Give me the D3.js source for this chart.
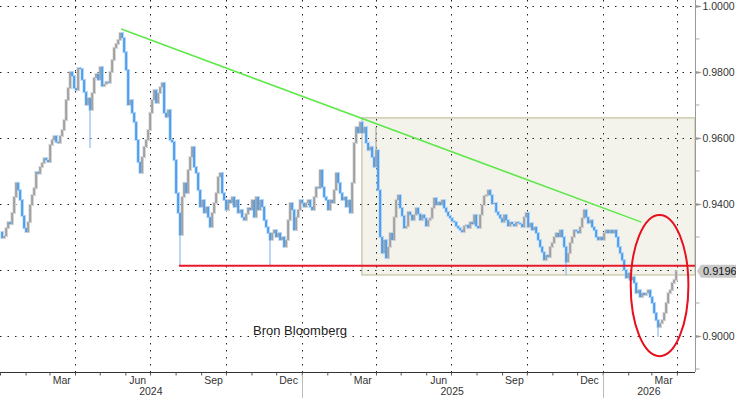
<!DOCTYPE html>
<html>
<head>
<meta charset="utf-8">
<script src="https://cdn.jsdelivr.net/npm/d3@7"></script>
<style>
  body { margin: 0; background: #fff; }
  svg { display: block; font-family: 'Liberation Sans', Arial, sans-serif; }
</style>
</head>
<body>
<div id="chart"></div>
<script>
// series: closes sampled every stepDays from startDate
var startDate = '2024-01-01';
var endDate = '2026-04-23';
var stepDays = 2.426;
var closes = [
  0.9315, 0.9297, 0.9303, 0.9327, 0.9345, 0.9339, 0.9373, 0.9421, 0.9464, 0.9442,
  0.9412, 0.9364, 0.9327, 0.9315, 0.9345, 0.9397, 0.9427, 0.9448, 0.9497, 0.9492,
  0.9512, 0.9524, 0.9539, 0.9533, 0.9527, 0.9579, 0.9594, 0.9606, 0.9588, 0.9585,
  0.9606, 0.9624, 0.9654, 0.9715, 0.9751, 0.9800, 0.9788, 0.9751, 0.9745, 0.9812,
  0.9809, 0.9776, 0.9739, 0.9700, 0.9721, 0.9685, 0.9736, 0.9782, 0.9794, 0.9776,
  0.9815, 0.9757, 0.9763, 0.9770, 0.9767, 0.9800, 0.9836, 0.9873, 0.9885, 0.9897,
  0.9918, 0.9903, 0.9860, 0.9806, 0.9700, 0.9715, 0.9676, 0.9648, 0.9594, 0.9527,
  0.9494, 0.9542, 0.9573, 0.9594, 0.9624, 0.9676, 0.9715, 0.9745, 0.9706, 0.9736,
  0.9754, 0.9767, 0.9676, 0.9663, 0.9685, 0.9594, 0.9588, 0.9533, 0.9433, 0.9373,
  0.9306, 0.9421, 0.9464, 0.9433, 0.9503, 0.9542, 0.9573, 0.9512, 0.9494, 0.9442,
  0.9391, 0.9412, 0.9373, 0.9391, 0.9360, 0.9330, 0.9373, 0.9403, 0.9433, 0.9482,
  0.9494, 0.9433, 0.9412, 0.9382, 0.9412, 0.9403, 0.9421, 0.9391, 0.9412, 0.9373,
  0.9382, 0.9360, 0.9351, 0.9370, 0.9388, 0.9382, 0.9412, 0.9360, 0.9421, 0.9382,
  0.9412, 0.9391, 0.9351, 0.9330, 0.9312, 0.9291, 0.9312, 0.9321, 0.9300, 0.9312,
  0.9291, 0.9300, 0.9270, 0.9291, 0.9351, 0.9403, 0.9382, 0.9321, 0.9360, 0.9382,
  0.9412, 0.9403, 0.9391, 0.9403, 0.9412, 0.9391, 0.9382, 0.9421, 0.9451, 0.9448,
  0.9503, 0.9451, 0.9421, 0.9412, 0.9382, 0.9412, 0.9403, 0.9442, 0.9494, 0.9464,
  0.9433, 0.9412, 0.9421, 0.9391, 0.9412, 0.9373, 0.9464, 0.9585, 0.9633, 0.9615,
  0.9648, 0.9615, 0.9633, 0.9585, 0.9563, 0.9573, 0.9542, 0.9512, 0.9563, 0.9442,
  0.9300, 0.9251, 0.9291, 0.9236, 0.9270, 0.9312, 0.9291, 0.9360, 0.9412, 0.9427,
  0.9388, 0.9364, 0.9327, 0.9333, 0.9376, 0.9367, 0.9351, 0.9367, 0.9388, 0.9370,
  0.9351, 0.9367, 0.9357, 0.9333, 0.9351, 0.9357, 0.9388, 0.9418, 0.9397, 0.9406,
  0.9397, 0.9412, 0.9388, 0.9376, 0.9364, 0.9357, 0.9348, 0.9345, 0.9333, 0.9327,
  0.9321, 0.9315, 0.9333, 0.9336, 0.9327, 0.9345, 0.9339, 0.9367, 0.9333, 0.9327,
  0.9367, 0.9397, 0.9424, 0.9427, 0.9442, 0.9427, 0.9400, 0.9403, 0.9376, 0.9367,
  0.9357, 0.9345, 0.9367, 0.9351, 0.9333, 0.9345, 0.9339, 0.9333, 0.9345, 0.9342,
  0.9339, 0.9330, 0.9360, 0.9373, 0.9330, 0.9342, 0.9321, 0.9330, 0.9312, 0.9291,
  0.9270, 0.9254, 0.9230, 0.9245, 0.9239, 0.9270, 0.9282, 0.9300, 0.9312, 0.9300,
  0.9321, 0.9300, 0.9270, 0.9224, 0.9251, 0.9282, 0.9300, 0.9321, 0.9318, 0.9312,
  0.9330, 0.9357, 0.9382, 0.9360, 0.9342, 0.9351, 0.9330, 0.9321, 0.9300, 0.9291,
  0.9300, 0.9291, 0.9312, 0.9321, 0.9312, 0.9321, 0.9312, 0.9321, 0.9300, 0.9270,
  0.9251, 0.9230, 0.9200, 0.9176, 0.9191, 0.9170, 0.9179, 0.9161, 0.9130, 0.9139,
  0.9118, 0.9130, 0.9124, 0.9130, 0.9139, 0.9118, 0.9100, 0.9070, 0.9048, 0.9027,
  0.9039, 0.9048, 0.9070, 0.9100, 0.9130, 0.9139, 0.9161, 0.9170, 0.9196
];
// intraday extremes worth showing (index into closes, value)
var wicks = [[45, 0.9570], [90, 0.9215], [135, 0.9215], [188, 0.9633], [283, 0.9185], [329, 0.8997]];

var lastValue = 0.9196;
var gridValues = [0.90, 0.92, 0.94, 0.96, 0.98, 1.00];
var labelValues = [0.90, 0.94, 0.96, 0.98, 1.00];
var minorValues = [0.89, 0.91, 0.93, 0.95, 0.97, 0.99];
var labelMonths = [2, 5, 8, 11]; // Mar Jun Sep Dec

// annotations
var box = { start: '2025-03-15', top: 0.9661, bottom: 0.9185 };
var support = { start: '2024-08-05', value: 0.9213 };
var trend = { start: '2024-05-27', v0: 0.9930, end: '2026-02-17', v1: 0.9345 };
var circle = { center: '2026-03-11', value: 0.9153, days: 35, span: 0.0214 };
var source = 'Bron Bloomberg';

var width = 736, height = 398;
var plotW = 695, plotH = 372;
var parse = d3.timeParse('%Y-%m-%d');

var svg = d3.select('#chart').append('svg')
    .attr('width', width)
    .attr('height', height);

var x = d3.scaleTime()
    .domain([parse(startDate), parse(endDate)])
    .range([0, plotW]);

var y = d3.scaleLinear()
    .domain([0.8891, 1.0018])
    .range([plotH, 0]);

var t0 = parse(startDate).getTime();
var data = closes.map(function(v, i) {
    return { date: new Date(t0 + i * stepDays * 864e5), value: v };
});

// shaded box
svg.append('rect')
    .attr('x', x(parse(box.start)))
    .attr('y', y(box.top))
    .attr('width', plotW - x(parse(box.start)))
    .attr('height', y(box.bottom) - y(box.top))
    .attr('fill', '#f3f3ec')
    .attr('stroke', '#cdcdb0')
    .attr('stroke-width', 1.5);

// grid
svg.append('g').selectAll('line')
    .data(gridValues)
    .enter().append('line')
    .attr('x1', 0).attr('x2', plotW)
    .attr('y1', function(d) { return Math.round(y(d)) + 0.5; })
    .attr('y2', function(d) { return Math.round(y(d)) + 0.5; })
    .attr('stroke', '#222')
    .attr('stroke-dasharray', '1.5,6');

var quarters = d3.timeMonth.range(parse(startDate), parse(endDate))
    .filter(function(d) { return d.getMonth() % 3 === 0 && d > parse(startDate); });

svg.append('g').selectAll('line')
    .data(quarters)
    .enter().append('line')
    .attr('x1', function(d) { return Math.round(x(d)) + 0.5; })
    .attr('x2', function(d) { return Math.round(x(d)) + 0.5; })
    .attr('y1', 0).attr('y2', plotH)
    .attr('stroke', '#222')
    .attr('stroke-dasharray', '1.5,5.5');

// price bars: each bar runs from the previous close to this close,
// blue on down moves, grey on up moves
var blue = '#3d96ec', grey = '#9a9a9a';
var lightBlue = '#b3d5f7', lightGrey = '#d4d4d4';
var bars = data.slice(1).map(function(d, i) {
    return { date: d.date, open: data[i].value, close: d.value, down: d.value < data[i].value };
});

var series = svg.append('g');

function barTop(d) { return y(Math.max(d.open, d.close)); }
function barH(d) { return Math.max(1, Math.abs(y(d.open) - y(d.close))); }

series.selectAll('.halo')
    .data(bars)
    .enter().append('rect')
    .attr('x', function(d) { return x(d.date) - 1.5; })
    .attr('y', function(d) { return barTop(d) - 1; })
    .attr('width', 3.5)
    .attr('height', function(d) { return barH(d) + 2; })
    .attr('fill', function(d) { return d.down ? lightBlue : lightGrey; });

series.selectAll('.wick')
    .data(wicks)
    .enter().append('line')
    .attr('x1', function(d) { return x(data[d[0]].date); })
    .attr('x2', function(d) { return x(data[d[0]].date); })
    .attr('y1', function(d) { return y(data[d[0]].value); })
    .attr('y2', function(d) { return y(d[1]); })
    .attr('stroke', function(d) { return d[1] < data[d[0]].value ? '#8cbcf0' : '#aaa'; })
    .attr('stroke-width', 1.2);

series.selectAll('.bar')
    .data(bars)
    .enter().append('rect')
    .attr('x', function(d) { return x(d.date) - 0.75; })
    .attr('y', barTop)
    .attr('width', 1.6)
    .attr('height', barH)
    .attr('fill', function(d) { return d.down ? blue : grey; });

// support line
svg.append('line')
    .attr('x1', x(parse(support.start))).attr('x2', plotW)
    .attr('y1', y(support.value)).attr('y2', y(support.value))
    .attr('stroke', '#e8182c')
    .attr('stroke-width', 2);

// trend line
svg.append('line')
    .attr('x1', x(parse(trend.start))).attr('y1', y(trend.v0))
    .attr('x2', x(parse(trend.end))).attr('y2', y(trend.v1))
    .attr('stroke', '#5ee84a')
    .attr('stroke-width', 1.5);

// circled area
var cx = x(parse(circle.center));
svg.append('ellipse')
    .attr('cx', cx)
    .attr('cy', y(circle.value))
    .attr('rx', cx - x(d3.timeDay.offset(parse(circle.center), -circle.days)))
    .attr('ry', y(circle.value - circle.span) - y(circle.value))
    .attr('fill', 'none')
    .attr('stroke', '#e8101c')
    .attr('stroke-width', 2);

// right axis
var yAxis = d3.axisRight(y)
    .tickValues(labelValues)
    .tickSize(0)
    .tickPadding(7)
    .tickFormat(d3.format('.4f'));

var ya = svg.append('g')
    .attr('transform', 'translate(' + (plotW + 0.5) + ',0)')
    .call(yAxis);
ya.select('.domain').attr('stroke', '#999').attr('d', 'M0,0V' + plotH);
ya.selectAll('text')
    .attr('fill', '#333')
    .style('font-size', '10.5px')
    .style('font-family', "'Liberation Sans', Arial, sans-serif");
ya.selectAll('.tick').append('path')
    .attr('d', 'M0,-1.5L5,-0.5L6,0L5,0.5L0,1.5Z')
    .attr('fill', '#999');

ya.selectAll('.minor')
    .data(minorValues)
    .enter().append('line')
    .attr('x1', 0).attr('x2', 4)
    .attr('y1', function(d) { return y(d); })
    .attr('y2', function(d) { return y(d); })
    .attr('stroke', '#aaa');

// last value tag
var ly = y(lastValue);
var tag = svg.append('g').attr('transform', 'translate(' + plotW + ',' + ly + ')');
tag.append('path')
    .attr('d', 'M2,0L6,-6.5H41V6.5H6Z')
    .attr('fill', '#c9c9c9');
tag.append('text')
    .attr('x', 8)
    .attr('y', 4)
    .attr('fill', '#111')
    .style('font-size', '11px')
    .text(d3.format('.4f')(lastValue));

// bottom axis
var xAxis = d3.axisBottom(x)
    .ticks(d3.timeMonth.every(1))
    .tickSize(3)
    .tickFormat('');

var xa = svg.append('g')
    .attr('transform', 'translate(0,' + (plotH + 0.5) + ')')
    .call(xAxis);
xa.select('.domain').attr('stroke', '#333').attr('d', 'M0,0H' + plotW);
xa.selectAll('.tick line').attr('stroke', '#555');

var months = d3.timeMonth.range(parse(startDate), parse(endDate))
    .filter(function(d) { return labelMonths.indexOf(d.getMonth()) >= 0; });

svg.append('g').selectAll('text')
    .data(months)
    .enter().append('text')
    .attr('x', function(d) { return x(d3.timeDay.offset(d, 15)); })
    .attr('y', plotH + 12)
    .attr('text-anchor', 'middle')
    .attr('fill', '#333')
    .style('font-size', '10.5px')
    .text(d3.timeFormat('%b'));

var years = d3.timeYear.range(parse(startDate), parse(endDate));
svg.append('g').selectAll('text')
    .data(years)
    .enter().append('text')
    .attr('x', function(d) {
        var a = Math.max(0, x(d));
        var b = Math.min(plotW, x(d3.timeYear.offset(d, 1)));
        return (a + b) / 2;
    })
    .attr('y', plotH + 23)
    .attr('text-anchor', 'middle')
    .attr('fill', '#333')
    .style('font-size', '10.5px')
    .text(d3.timeFormat('%Y'));

svg.append('g').selectAll('line')
    .data(years.slice(1))
    .enter().append('line')
    .attr('x1', function(d) { return Math.round(x(d)) + 0.5; })
    .attr('x2', function(d) { return Math.round(x(d)) + 0.5; })
    .attr('y1', plotH + 4).attr('y2', height)
    .attr('stroke', '#bbb');

// source note
svg.append('text')
    .attr('x', 253)
    .attr('y', y(0.9) - 1)
    .attr('fill', '#222')
    .style('font-size', '13px')
    .text(source);
</script>
</body>
</html>
